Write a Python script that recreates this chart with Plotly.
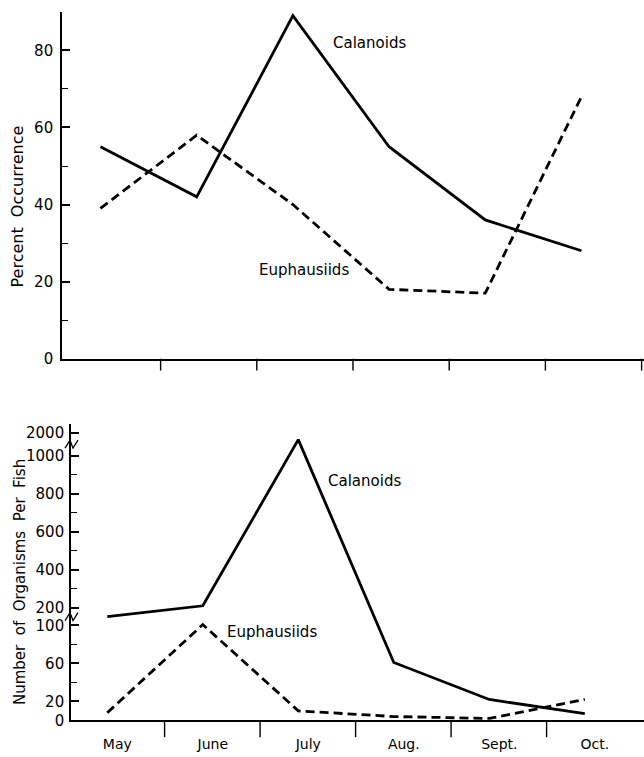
import plotly.graph_objects as go

# ---------------- data ----------------
months = ["May", "June", "July", "Aug.", "Sept.", "Oct."]

# top panel: percent occurrence
pct_calanoids = [55, 42, 89, 55, 36, 28]
pct_euphausiids = [39, 58, 40, 18, 17, 68]

# bottom panel: number of organisms per fish (broken axis)
num_calanoids = [150, 210, 1700, 61, 22, 7]
num_euphausiids = [8, 105, 10, 4, 2, 22]

pct_major = [0, 20, 40, 60, 80]
pct_minor = [10, 30, 50, 70, 90]
num_major = [0, 20, 60, 100, 200, 400, 600, 800, 1000, 2000]
num_minor = [40, 80, 300, 500, 700, 900]

# ---------------- broken-axis scale ----------------
# (value, display position) knots of the piecewise-linear broken scale
SCALE_KNOTS = [(0, 0.0), (100, 96.0), (200, 114.0), (1000, 268.0), (2000, 291.0)]


def scale(v):
    for (v0, p0), (v1, p1) in zip(SCALE_KNOTS, SCALE_KNOTS[1:]):
        if v <= v1:
            return p0 + (v - v0) * (p1 - p0) / (v1 - v0)
    (v0, p0), (v1, p1) = SCALE_KNOTS[-2], SCALE_KNOTS[-1]
    return p0 + (v - v0) * (p1 - p0) / (v1 - v0)


W, H = 644, 757


def py(p):
    return 1 - p / H


FONT = "DejaVu Sans"
LW = 2.8
DASH = "9px,5px"

fig = go.Figure()
fig.add_trace(go.Scatter(x=months, y=pct_calanoids, mode="lines",
                         line=dict(color="black", width=LW),
                         xaxis="x", yaxis="y", name="Calanoids"))
fig.add_trace(go.Scatter(x=months, y=pct_euphausiids, mode="lines",
                         line=dict(color="black", width=LW, dash=DASH),
                         xaxis="x", yaxis="y", name="Euphausiids"))
fig.add_trace(go.Scatter(x=months, y=[scale(v) for v in num_calanoids], mode="lines",
                         line=dict(color="black", width=LW),
                         xaxis="x2", yaxis="y2", name="Calanoids"))
fig.add_trace(go.Scatter(x=months, y=[scale(v) for v in num_euphausiids], mode="lines",
                         line=dict(color="black", width=LW, dash=DASH),
                         xaxis="x2", yaxis="y2", name="Euphausiids"))

axis_common = dict(showgrid=False, zeroline=False, showline=True,
                   linecolor="black", linewidth=1.6,
                   tickfont=dict(family=FONT, size=15, color="black"))

fig.update_layout(
    width=W, height=H,
    margin=dict(l=0, r=0, t=0, b=0),
    paper_bgcolor="white", plot_bgcolor="white",
    showlegend=False,
    font=dict(family=FONT, color="black"),
    xaxis=dict(axis_common, domain=[62 / W, 1], type="category",
               categoryorder="array", categoryarray=months,
               range=[-0.4, 5.65], ticks="", showticklabels=False, anchor="y"),
    yaxis=dict(axis_common, domain=[py(363), py(12)], range=[0, 90],
               tickmode="array", tickvals=pct_major,
               ticks="inside", ticklen=8, tickwidth=1.6, tickcolor="black",
               ticklabelstandoff=4,
               minor=dict(tickmode="array", tickvals=pct_minor, ticks="inside",
                          ticklen=6, tickwidth=1.4, tickcolor="black"),
               anchor="x"),
    xaxis2=dict(axis_common, domain=[71 / W, 1], type="category",
                categoryorder="array", categoryarray=months,
                range=[-0.38, 5.62], ticks="", showticklabels=True,
                tickfont=dict(family=FONT, size=14, color="black"),
                ticklabelshift=10, ticklabelstandoff=10, anchor="y2"),
    yaxis2=dict(axis_common, domain=[py(729), py(429)], range=[0, 300],
                tickmode="array", tickvals=[scale(v) for v in num_major],
                ticktext=[str(v) for v in num_major],
                ticks="inside", ticklen=8, tickwidth=1.6, tickcolor="black",
                ticklabelstandoff=2,
                minor=dict(tickmode="array", tickvals=[scale(v) for v in num_minor],
                           ticks="inside", ticklen=6, tickwidth=1.4, tickcolor="black"),
                anchor="x2"),
)

shapes = []
# x-axis tick marks between month columns (below the axis line)
for i in range(len(months)):
    shapes.append(dict(type="line", xref="x", yref="paper",
                       x0=i + 0.625, x1=i + 0.625, y0=py(363), y1=py(375),
                       line=dict(color="black", width=1.4)))
for i in range(len(months) - 1):
    shapes.append(dict(type="line", xref="x2", yref="paper",
                       x0=i + 0.6, x1=i + 0.6, y0=py(729), y1=py(746),
                       line=dict(color="black", width=1.4)))


# break marks on the broken y axis
def zig(xc, yc):
    return dict(type="path", xref="paper", yref="paper",
                path=(f"M {(xc - 6) / W},{py(yc + 4)} L {(xc - 1) / W},{py(yc - 4)} "
                      f"L {(xc + 2) / W},{py(yc + 4)} L {(xc + 7) / W},{py(yc - 4)}"),
                line=dict(color="black", width=1.3))


shapes.append(zig(71, 729 - scale(150)))
shapes.append(zig(71, 729 - scale(1500)))
fig.update_layout(shapes=shapes)

ann_font = dict(family=FONT, size=15, color="black")
annotations = [
    dict(text="Calanoids", x=2.8, y=82, xref="x", yref="y", showarrow=False, font=ann_font),
    dict(text="Euphausiids", x=2.12, y=23, xref="x", yref="y", showarrow=False, font=ann_font),
    dict(text="Calanoids", x=2.69, y=242, xref="x2", yref="y2", showarrow=False, font=ann_font),
    dict(text="Euphausiids", x=1.72, y=89, xref="x2", yref="y2", showarrow=False, font=ann_font),
    dict(text="Percent  Occurrence", x=18 / W, y=py(209), xref="paper", yref="paper",
         xanchor="center", yanchor="middle",
         textangle=-90, showarrow=False, font=dict(family=FONT, size=16, color="black")),
    dict(text="Number  of  Organisms  Per  Fish", x=20 / W, y=py(589), xref="paper",
         yref="paper", xanchor="center", yanchor="middle", textangle=-90, showarrow=False,
         font=dict(family=FONT, size=15, color="black")),
]
fig.update_layout(annotations=annotations)

fig.write_html("out.html", config={"displayModeBar": False},
               post_script="document.body.style.margin='0';document.body.style.overflow='hidden';")
